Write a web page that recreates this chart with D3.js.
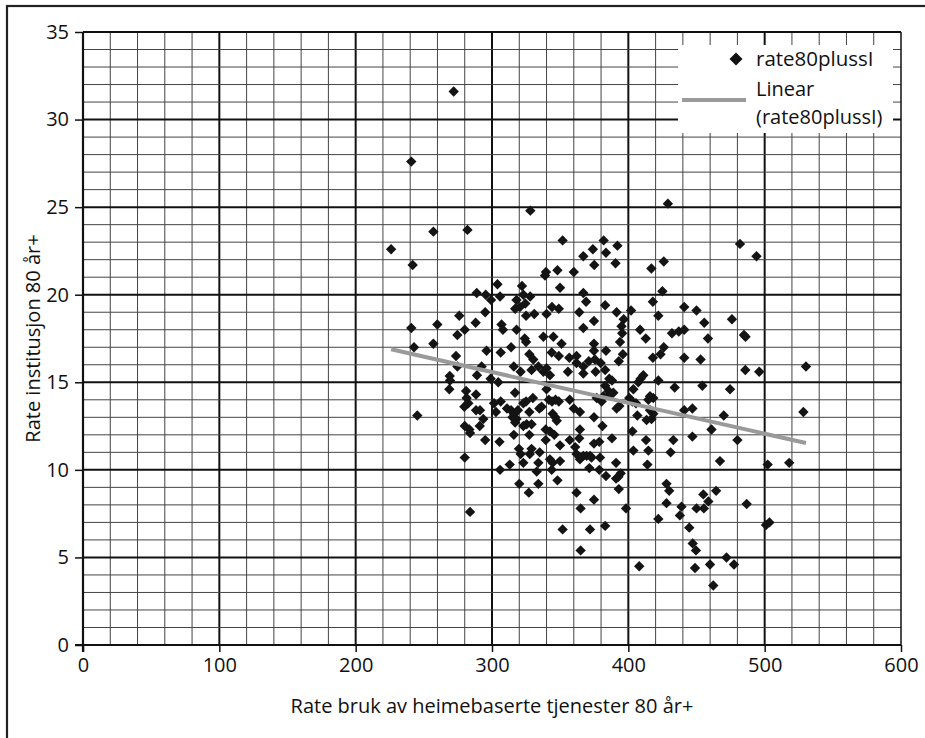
<!DOCTYPE html>
<html>
<head>
<meta charset="utf-8">
<script src="https://cdn.jsdelivr.net/npm/d3@7"></script>
<style>
  body { margin: 0; background: #fff; }
  svg { display: block; font-family: "Open Sans", "DejaVu Sans", sans-serif; }
</style>
</head>
<body>
<script>
// rate heimebaserte tjenester 80 år+ (x) and rate institusjon 80 år+ (y)
const rateHeime = [
  271.9,240.8,328.1,257,282,226,241.8,351.8,374,367,375,339.6,338.9,348,360,304,322,349.9,288.8,295.4,
  305.9,299.3,323,328,318,324.4,317,320.5,367,369,295,276,344,349,340,331,325,364,374.8,240.8,
  259.9,288,280,274.6,307,308,318,367,337.7,345,324,
  429,381.9,392,383.6,390.6,481.9,494,416.9,426,425,418,383,391.4,402,422,441,450,396.6,395,395.5,
  408.6,412.8,432,437,441,455.7,458.4,476,484.8,486,
  242.8,257,296,306.4,314,325,351,273.6,274.6,327.4,330.3,343.8,349,356.7,362,374.8,362,367,371,375.5,
  316,321,329,334,337.7,340,342.5,355.7,367,289,269,269.2,292.4,299,304.6,268.7,281,288.3,281.4,279.7,
  282.6,288.3,291.2,293.6,291,280,283.4,283.9,245.2,295,280,283.9,301.5,302.9,306.4,316.9,311,314,316,318,
  319,315,317,323,325,330,327.4,334.7,336.4,340,341.7,344,346.6,349,344.5,346.4,347.5,323,325.4,329,
  327.4,316,305.5,339.4,342.5,345.7,339.4,349.9,357,364.5,364,360,364.5,357,374.8,374.8,361,319.8,321,329,
  327.7,335,323,334,342.5,344.5,349.9,362,364.5,367,369.4,372,373,371.4,378.7,305.9,313,332.8,343.8,320,
  334,348,327,362,365,374.8,351.8,371.9,365,
  374.8,383.6,393.9,396,393,379.7,383,376,426,423.6,418,441,453,485.8,496,530.3,411,409,407.3,422,
  386,388,383,385.5,389,386.7,381.7,376.8,380.4,403.7,400.7,403,405.6,415.9,418.3,414.7,434,454.3,474.6,391.4,
  393.4,406.6,413.4,417,418.3,415.9,441,447,470,381,403,388,378.7,413,433,447,461,480,528.4,403.7,
  414.7,431,379.2,391,414,467.2,502.2,518,383.6,392.7,394.4,391,393,398.3,428,430,428,439,437.8,422,
  455,458.7,464.4,450,455.4,444.7,486.8,501,503.5,383,447.2,449.6,408,448.9,459.9,472,477.5,462.3
];
const rateInst = [
  31.6,27.6,24.8,23.6,23.7,22.6,21.7,23.1,22.6,22.2,21.7,21.3,21.1,21.4,21.3,20.6,20.5,20.4,20.1,20.0,
  19.9,19.7,20.0,19.9,19.7,19.5,19.2,19.3,20.1,19.6,19.0,18.8,19.3,19.2,18.9,18.9,18.8,19.0,18.5,18.1,
  18.3,18.4,18.0,17.7,18.3,18.0,18.0,18.1,17.6,17.6,17.5,
  25.2,23.1,22.8,22.4,21.8,22.9,22.2,21.5,21.9,20.2,19.6,19.4,19.0,19.1,18.8,19.3,19.1,18.6,18.2,17.8,
  18.0,17.5,17.8,17.9,18.0,18.4,17.5,18.6,17.7,17.6,
  17.0,17.2,16.8,16.7,17.0,17.3,17.2,16.5,15.9,16.6,16.3,16.7,16.5,16.4,16.5,17.2,16.1,15.9,16.2,16.3,
  15.9,15.6,15.7,15.9,15.6,15.8,15.4,15.6,15.5,15.4,15.36,15.1,15.9,15.2,15.0,14.6,14.5,14.3,14.1,13.6,
  13.8,13.4,13.4,12.9,12.5,12.5,12.3,12.1,13.1,11.7,10.7,7.6,13.8,13.3,13.9,14.4,13.5,13.4,13.2,12.9,
  13.4,13.0,12.7,13.8,13.9,14.1,13.3,13.5,13.6,14.6,14.0,13.9,14.0,13.9,13.2,13.0,12.8,12.5,12.6,12.6,
  12.0,12.0,11.6,12.3,12.2,12.0,11.7,11.4,11.7,12.3,11.8,13.5,13.3,14.0,13.0,11.5,11.3,11.2,10.9,11.2,
  10.9,11.0,10.4,10.4,10.6,10.4,10.5,10.9,10.6,10.8,10.8,10.8,10.7,10.1,10.0,10.0,10.3,9.9,10.0,9.2,
  9.2,9.4,8.7,8.7,7.8,8.3,6.6,6.6,5.4,
  16.8,16.8,17.3,16.6,16.2,16.1,15.7,15.6,17.0,16.6,16.4,16.4,16.3,15.7,15.6,15.9,15.4,15.2,15.0,15.1,
  15.2,15.1,14.8,14.5,14.4,14.3,14.2,14.1,13.9,14.6,14.1,13.9,13.8,14.2,14.1,14.0,14.7,14.8,14.6,13.5,
  13.65,13.1,12.85,12.9,13.2,13.4,13.4,13.5,13.1,12.5,12.2,11.8,11.6,11.7,11.7,11.9,12.3,11.7,13.3,11.1,
  11.1,11.0,10.7,10.4,10.3,10.5,10.3,10.4,9.65,9.6,9.8,9.5,8.9,7.8,9.2,8.8,8.1,7.9,7.4,7.2,
  8.6,8.2,8.8,7.8,7.8,6.7,8.05,6.85,7.0,6.8,5.8,5.4,4.5,4.4,4.6,5.0,4.6,3.4
];

// linear trend line (rate80plussI)
const trendIntercept = 20.86;
const trendSlope = -0.01759;

const xTicks = [0, 100, 200, 300, 400, 500, 600];
const yTicks = [0, 5, 10, 15, 20, 25, 30, 35];
const seriesName = "rate80plussI";
const xTitle = "Rate bruk av heimebaserte tjenester 80 år+";
const yTitle = "Rate institusjon 80 år+";

const width = 925, height = 738;
const margin = { top: 32, right: 24, bottom: 93, left: 83 };
const pw = width - margin.left - margin.right,
      ph = height - margin.top - margin.bottom;

const svg = d3.select("body").append("svg")
  .attr("width", width)
  .attr("height", height);

svg.append("rect").attr("width", width).attr("height", height).attr("fill", "#fff");

// outer frame (cropped at right and bottom)
svg.append("rect")
  .attr("x", 7).attr("y", 6)
  .attr("width", width + 20).attr("height", height + 20)
  .attr("fill", "none").attr("stroke", "#222").attr("stroke-width", 2.2);

const x = d3.scaleLinear().domain([0, 600]).range([0, pw]);
const y = d3.scaleLinear().domain([0, 35]).range([ph, 0]);

const g = svg.append("g")
  .attr("transform", "translate(" + margin.left + "," + margin.top + ")");

// grid: minor every 20 / 1, major every 100 / 5
const grid = g.append("g");
grid.selectAll("line.vx")
  .data(d3.range(20, 600, 20))
  .enter().append("line")
  .attr("x1", d => x(d)).attr("x2", d => x(d))
  .attr("y1", 0).attr("y2", ph)
  .attr("stroke", d => d % 100 === 0 ? "#111" : "#444")
  .attr("stroke-width", d => d % 100 === 0 ? 2 : 1);
grid.selectAll("line.hy")
  .data(d3.range(1, 35, 1))
  .enter().append("line")
  .attr("y1", d => y(d)).attr("y2", d => y(d))
  .attr("x1", 0).attr("x2", pw)
  .attr("stroke", d => d % 5 === 0 ? "#111" : "#444")
  .attr("stroke-width", d => d % 5 === 0 ? 2 : 1);

// plot frame top / right
g.append("line").attr("x1", 0).attr("x2", pw).attr("y1", 0).attr("y2", 0)
  .attr("stroke", "#111").attr("stroke-width", 2);
g.append("line").attr("x1", pw).attr("x2", pw).attr("y1", 0).attr("y2", ph)
  .attr("stroke", "#111").attr("stroke-width", 1.5);

// axes
const yAxis = g.append("g")
  .call(d3.axisLeft(y).tickValues(yTicks).tickSize(8).tickSizeOuter(0).tickPadding(6));
const xAxis = g.append("g")
  .attr("transform", "translate(0," + ph + ")")
  .call(d3.axisBottom(x).tickValues(xTicks).tickSize(7).tickSizeOuter(0).tickPadding(6));

[yAxis, xAxis].forEach(a => {
  a.select(".domain").attr("stroke", "#111").attr("stroke-width", 2.2);
  a.selectAll(".tick line").attr("stroke", "#111").attr("stroke-width", 1.5);
  a.selectAll(".tick text")
    .attr("fill", "#111")
    .style("font-family", "'Open Sans', sans-serif")
    .style("font-size", "20px");
});
yAxis.select(".domain").attr("d", "M0," + (ph + 7) + "V0");
xAxis.select(".domain").attr("d", "M-8,0H" + pw);

// legend box
const lg = g.append("g").attr("transform", "translate(" + (678 - margin.left) + "," + (45 - margin.top) + ")");
lg.append("rect").attr("width", 215).attr("height", 88).attr("fill", "#fff");

const diamond = r => "M0," + (-r) + "L" + r + ",0L0," + r + "L" + (-r) + ",0Z";

lg.append("path").attr("d", diamond(6.5)).attr("transform", "translate(58,14)").attr("fill", "#111");
lg.append("text").attr("x", 78).attr("y", 21).text(seriesName)
  .style("font-size", "20.5px").attr("fill", "#111");
lg.append("line").attr("x1", 4).attr("x2", 68).attr("y1", 55).attr("y2", 55)
  .attr("stroke", "#9a9a9a").attr("stroke-width", 4);
lg.append("text").attr("x", 78).attr("y", 51).text("Linear")
  .style("font-size", "20px").attr("fill", "#111");
lg.append("text").attr("x", 78).attr("y", 79).text("(" + seriesName + ")")
  .style("font-size", "20px").attr("fill", "#111");

// points
const pts = rateHeime.map((v, i) => ({ x: v, y: rateInst[i] }));
g.append("g").selectAll("path")
  .data(pts)
  .enter().append("path")
  .attr("d", diamond(5.2))
  .attr("transform", d => "translate(" + x(d.x) + "," + y(d.y) + ")")
  .attr("fill", "#141414");

// trend line over the data extent
const ext = d3.extent(rateHeime);
const trend = ext.map(v => ({ x: v, y: trendIntercept + trendSlope * v }));
g.append("path")
  .datum(trend)
  .attr("d", d3.line().x(d => x(d.x)).y(d => y(d.y)))
  .attr("fill", "none")
  .attr("stroke", "#9a9a9a")
  .attr("stroke-width", 4);

// axis titles
g.append("text")
  .attr("x", pw / 2).attr("y", ph + 68)
  .attr("text-anchor", "middle")
  .style("font-size", "20px").attr("fill", "#111")
  .text(xTitle);
g.append("text")
  .attr("transform", "rotate(-90)")
  .attr("x", -ph / 2).attr("y", -margin.left + 40)
  .attr("text-anchor", "middle")
  .style("font-size", "20px").attr("fill", "#111")
  .text(yTitle);
</script>
</body>
</html>
